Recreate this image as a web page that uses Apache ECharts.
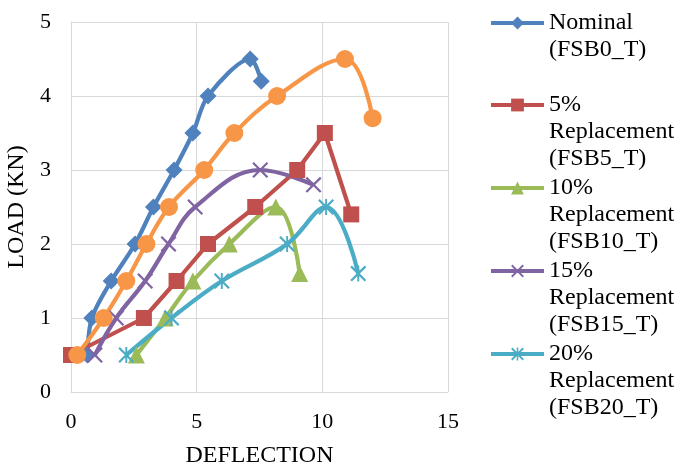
<!DOCTYPE html>
<html>
<head>
<meta charset="utf-8">
<script src="https://cdn.jsdelivr.net/npm/echarts@6/dist/echarts.min.js"></script>
<style>
html,body{margin:0;padding:0;background:#fff;}
#chart{width:676px;height:467px;}
</style>
</head>
<body>
<div id="chart"></div>
<script>
// ---- data ----
const xTicks = [0, 5, 10, 15];
const yTicks = [0, 1, 2, 3, 4, 5];

const nominalX = [0.65, 0.83, 1.6, 2.55, 3.28, 4.1, 4.85, 5.45, 7.13, 7.57];
const nominalY = [0.5, 1, 1.5, 2, 2.5, 3, 3.5, 4, 4.5, 4.2];

const rep5X = [0, 2.9, 4.2, 5.45, 7.33, 9.0, 10.1, 11.15];
const rep5Y = [0.5, 1, 1.5, 2, 2.5, 3, 3.5, 2.4];

const rep10X = [2.6, 3.75, 4.85, 6.3, 8.15, 9.1];
const rep10Y = [0.5, 1, 1.5, 2, 2.5, 1.6];

const rep15X = [0.95, 1.8, 2.95, 3.88, 4.94, 7.53, 9.65];
const rep15Y = [0.5, 1, 1.5, 2, 2.5, 3, 2.8];

const rep20X = [2.2, 4.0, 6.0, 8.6, 10.15, 11.43];
const rep20Y = [0.5, 1, 1.5, 2, 2.5, 1.6];

const extraX = [0.25, 1.3, 2.2, 3.0, 3.9, 5.3, 6.5, 8.2, 10.9, 12.0];
const extraY = [0.5, 1, 1.5, 2, 2.5, 3, 3.5, 4, 4.5, 3.7];

const seriesNames = ['Nominal (FSB0_T)', '5% Replacement (FSB5_T)', '10% Replacement (FSB10_T)', '15% Replacement (FSB15_T)', '20% Replacement (FSB20_T)'];
const legendLabels = ['Nominal\n(FSB0_T)', '5%\nReplacement\n(FSB5_T)', '10%\nReplacement\n(FSB10_T)', '15%\nReplacement\n(FSB15_T)', '20%\nReplacement\n(FSB20_T)'];

// ---- build ----
const pairs = (xs, ys) => xs.map((x, i) => [x, ys[i]]);
const FONT = '"Liberation Serif", "Times New Roman", serif';
const X_SYMBOL = 'path://M0,1 L1,0 L10,9 L9,10 Z M9,0 L10,1 L1,10 L0,9 Z';
const STAR_SYMBOL = 'path://M0,1 L1,0 L10,9 L9,10 Z M9,0 L10,1 L1,10 L0,9 Z M4.4,0 L5.6,0 L5.6,10 L4.4,10 Z';

const LH = 27;
const legendSymbolY = [23, 105, 188, 271, 354];

const chart = echarts.init(document.getElementById('chart'), null, {renderer: 'canvas'});

function mk(name, xs, ys, color, symbol, size, smooth) {
  return {
    name: name,
    type: 'line',
    data: pairs(xs, ys),
    smooth: smooth,
    symbol: symbol,
    symbolSize: size,
    showAllSymbol: true,
    clip: false,
    lineStyle: {color: color, width: 4.2},
    itemStyle: {color: color, borderWidth: 0},
    emphasis: {disabled: true}
  };
}

const series = [
  mk(seriesNames[0], nominalX, nominalY, '#4F81BD', 'diamond', 17, 0.3),
  mk(seriesNames[1], rep5X, rep5Y, '#C0504D', 'rect', 16, false),
  mk(seriesNames[2], rep10X, rep10Y, '#9BBB59', 'triangle', 17, 0.4),
  mk(seriesNames[3], rep15X, rep15Y, '#8064A2', X_SYMBOL, 16, 0.4),
  mk(seriesNames[4], rep20X, rep20Y, '#4BACC6', STAR_SYMBOL, 16, 0.4),
  mk('Series6', extraX, extraY, '#F79646', 'circle', 18, 0.4)
];

const legends = seriesNames.map((n, i) => {
  const lines = legendLabels[i].split('\n').length;
  return {
    data: [n],
    orient: 'vertical',
    left: 489,
    top: legendSymbolY[i] - (2 * lines - 1) * LH / 2,
    padding: 0,
    itemWidth: 53,
    itemHeight: 16,
    selectedMode: false,
    lineStyle: {width: 4},
    formatter: () => '\n'.repeat(lines - 1) + legendLabels[i],
    textStyle: {fontFamily: FONT, fontSize: 24, lineHeight: LH, color: '#000'}
  };
});

chart.setOption({
  animation: false,
  backgroundColor: '#fff',
  grid: {left: 71, right: 228, top: 22, bottom: 75, containLabel: false, outerBoundsMode: 'none'},
  legend: legends,
  xAxis: {
    type: 'value',
    min: xTicks[0], max: xTicks[xTicks.length - 1], interval: 5,
    name: 'DEFLECTION', nameLocation: 'middle', nameGap: 52,
    nameTextStyle: {fontFamily: FONT, fontSize: 24, color: '#000'},
    axisLine: {show: true, lineStyle: {color: '#D9D9D9', width: 1}},
    axisTick: {show: false},
    axisLabel: {fontFamily: FONT, fontSize: 22, color: '#000', margin: 19},
    splitLine: {show: true, lineStyle: {color: '#D9D9D9', width: 1}}
  },
  yAxis: {
    type: 'value',
    min: yTicks[0], max: yTicks[yTicks.length - 1], interval: 1,
    name: 'LOAD (KN)', nameLocation: 'middle', nameGap: 42,
    nameTextStyle: {fontFamily: FONT, fontSize: 24, color: '#000'},
    axisLine: {show: true, lineStyle: {color: '#D9D9D9', width: 1}},
    axisTick: {show: false},
    axisLabel: {fontFamily: FONT, fontSize: 22, color: '#000', margin: 20},
    splitLine: {show: true, lineStyle: {color: '#D9D9D9', width: 1}}
  },
  series: series
});
</script>
</body>
</html>
